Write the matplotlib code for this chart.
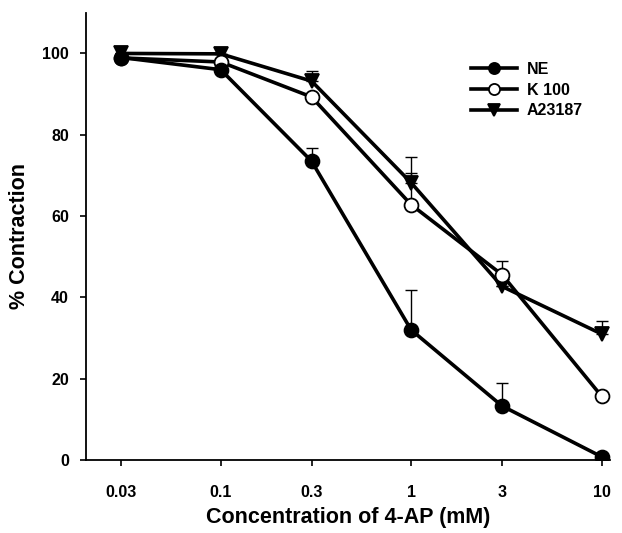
import numpy as np
import matplotlib
matplotlib.use("Agg")
import matplotlib.pyplot as plt

# Concentration of 4-AP (mM)
conc = [0.03, 0.1, 0.3, 1, 3, 10]
tick_labels = ["0.03", "0.1", "0.3", "1", "3", "10"]

# % contraction
ne = [99.0, 96.0, 73.5, 32.0, 13.3, 0.8]
ne_err = [0, 0, 3.3, 9.7, 5.6, 0]
k100 = [98.9, 97.9, 89.3, 62.8, 45.6, 15.7]
k100_err = [0, 0, 0, 7.9, 3.4, 0]
a23187 = [100.0, 99.9, 93.2, 68.2, 42.7, 31.0]
a23187_err = [0, 0, 2.4, 6.4, 0, 3.2]

plt.rcParams["font.family"] = ["Liberation Sans", "DejaVu Sans"]
plt.rcParams["font.weight"] = "bold"

fig = plt.figure(figsize=(6.22, 5.33), dpi=100)
ax = fig.add_axes([0.1375, 0.137, 0.8435, 0.839])

zeros = np.zeros(len(conc))
series = [
    ("A23187", a23187, a23187_err, "v", "black"),
    ("K 100", k100, k100_err, "o", "white"),
    ("NE", ne, ne_err, "o", "black"),
]
handles = {}
for name, vals, err, mk, fc in series:
    ax.errorbar(conc, vals, yerr=[zeros, err], fmt="none", ecolor="black",
                elinewidth=1.0, capsize=4, capthick=1.0, zorder=2)
    h, = ax.plot(conc, vals, color="black", lw=2.6, marker=mk, ms=10,
                 markerfacecolor=fc, markeredgecolor="black", mew=1.3,
                 label=name, zorder=3)
    handles[name] = h

ax.set_xscale("log")
ax.set_xlim(0.0195, 11.1)
ax.set_ylim(0, 110)
ax.set_xticks(conc)
ax.set_xticklabels(tick_labels)
ax.xaxis.set_minor_locator(matplotlib.ticker.NullLocator())
ax.set_yticks([0, 20, 40, 60, 80, 100])

ax.spines["top"].set_visible(False)
ax.spines["right"].set_visible(False)
ax.spines["left"].set_linewidth(1.3)
ax.spines["bottom"].set_linewidth(1.3)
ax.tick_params(direction="out", length=4, width=1.2, labelsize=11.5)
ax.tick_params(axis="x", pad=14)
ax.tick_params(axis="y", pad=8)

ax.set_xlabel("Concentration of 4-AP (mM)", fontsize=15.5, fontweight="bold", labelpad=5)
ax.set_ylabel("% Contraction", fontsize=15.5, fontweight="bold", labelpad=9)

ax.legend([handles["NE"], handles["K 100"], handles["A23187"]],
          ["NE", "K 100", "A23187"], loc="upper left",
          bbox_to_anchor=(0.735, 0.89), frameon=False, markerscale=0.8,
          handlelength=2.9, handletextpad=0.6, labelspacing=0.35,
          borderpad=0, borderaxespad=0, prop={"weight": "bold", "size": 11.5})

fig.savefig("out.png", dpi=100)
